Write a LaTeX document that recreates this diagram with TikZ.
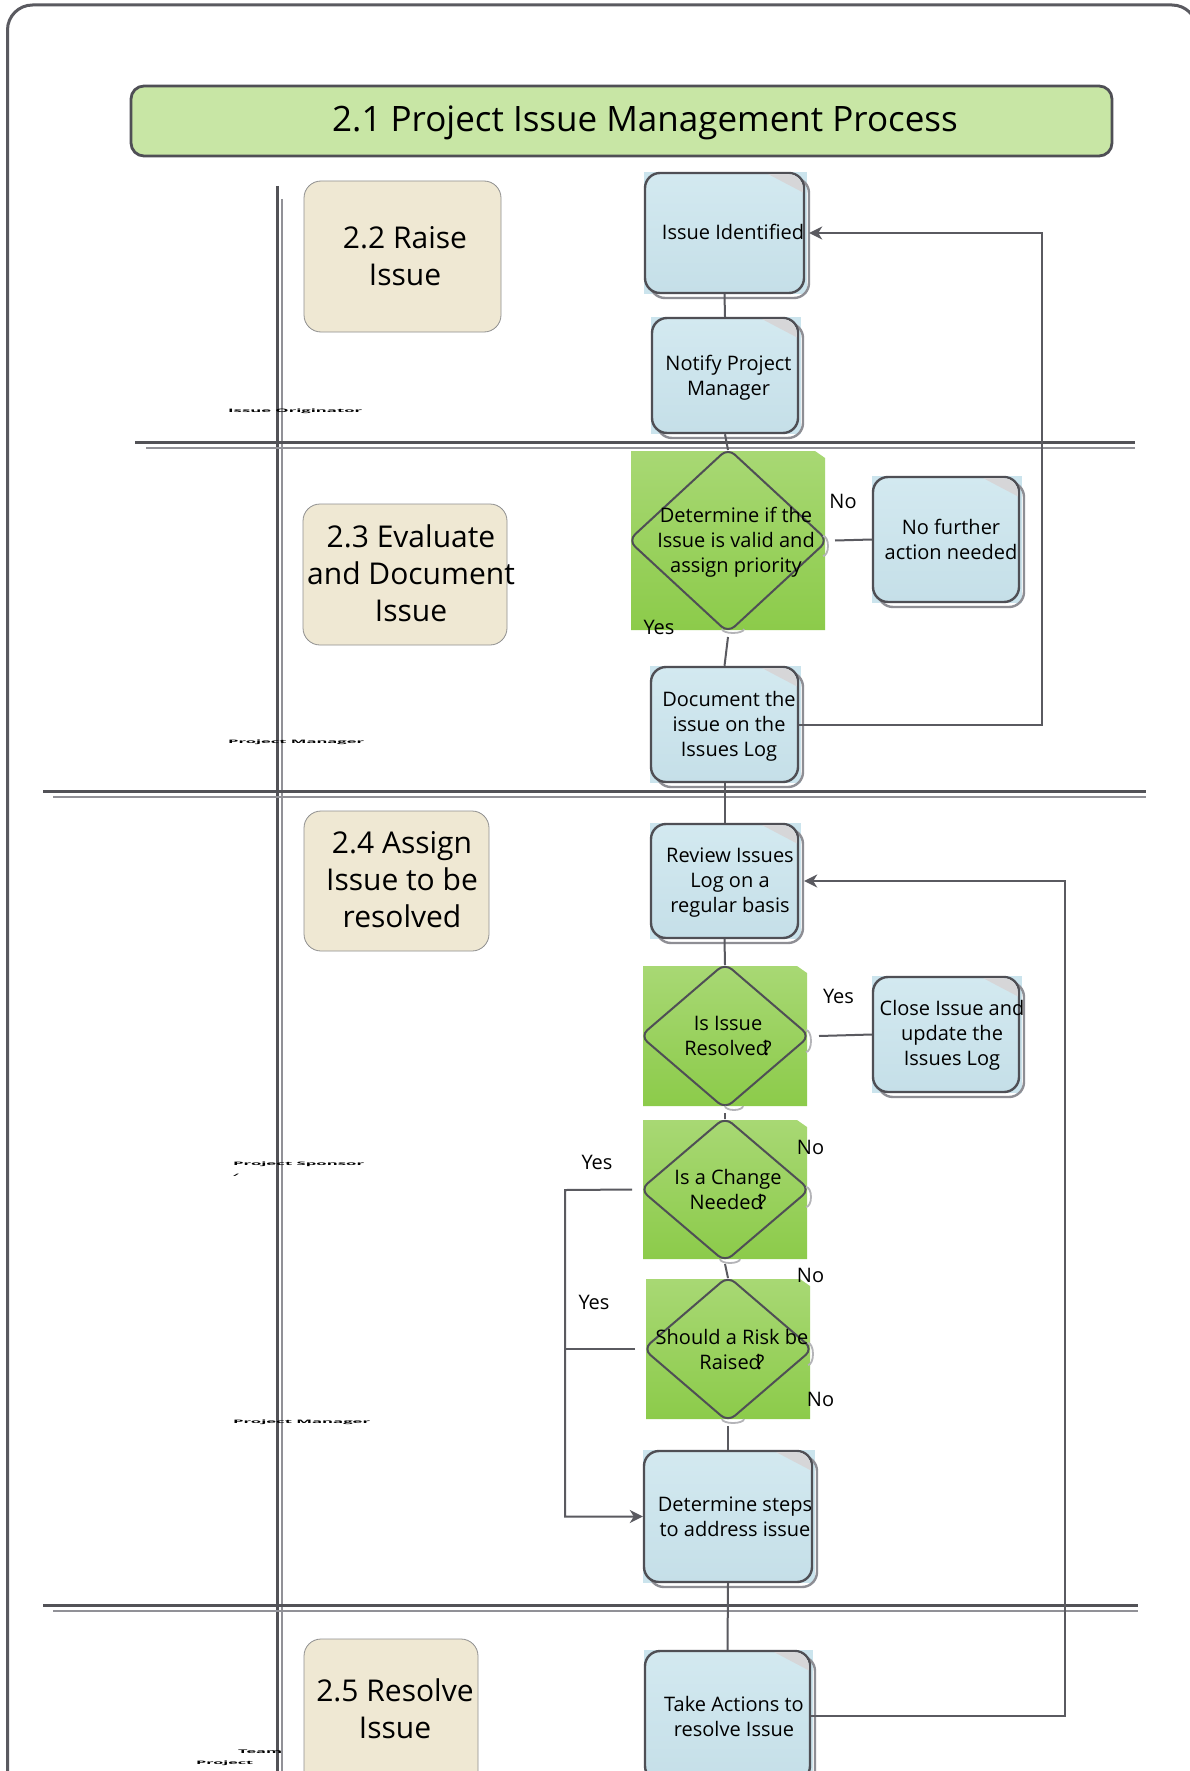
\documentclass[tikz,border=0pt]{standalone}
\usepackage{fontspec}
\setmainfont{Open Sans}
\usetikzlibrary{shapes.geometric,arrows.meta,calc}

\definecolor{framegray}{HTML}{5A5A60}
\definecolor{boxline}{HTML}{4F4F55}
\definecolor{shadowgray}{HTML}{8E8E94}
\definecolor{conncol}{HTML}{5A5A60}
\definecolor{laneA}{HTML}{525257}
\definecolor{laneB}{HTML}{919197}
\definecolor{titlefill}{HTML}{C8E6A5}
\definecolor{beige}{HTML}{EFE8D3}
\definecolor{beigeline}{HTML}{8F8F8F}
\definecolor{blueT}{HTML}{D3E9F0}
\definecolor{blueB}{HTML}{C5DFE8}
\definecolor{bgblue}{HTML}{CBE4ED}
\definecolor{foldgray}{HTML}{D6D6D8}
\definecolor{greenT}{HTML}{A8D874}
\definecolor{greenB}{HTML}{8CCB4A}
\definecolor{arcgray}{HTML}{B4B4B8}

\tikzset{
  pbox/.style={rectangle, draw=boxline, line width=2.4pt, rounded corners=15pt,
    top color=blueT, bottom color=blueB, inner sep=0pt},
  shadowline/.style={draw=shadowgray, line width=2.4pt, rounded corners=15pt},
  dnode/.style={diamond, draw=boxline, line width=2pt, rounded corners=9pt, inner sep=0pt},
  phasebox/.style={rectangle, draw=beigeline, line width=0.8pt, fill=beige, rounded corners=17pt, inner sep=0pt},
  txt/.style={font=\fontsize{20}{25}\selectfont, align=center, inner sep=0pt},
  phasetxt/.style={font=\fontsize{30}{37}\selectfont, align=center, inner sep=0pt},
  lbl/.style={font=\fontsize{20}{25}\selectfont, inner sep=0pt},
  lanetxt/.style={font=\bfseries, inner sep=0pt, anchor=west},
  conn/.style={draw=conncol, line width=2pt},
  arr/.style={-{Stealth[length=13pt,width=13pt,inset=4pt]}},
  laneone/.style={draw=laneA, line width=3pt},
  lanetwo/.style={draw=laneB, line width=2.5pt},
  arcline/.style={draw=arcgray, line width=1.8pt},
}

\newcommand\procbox[5]{%
  \fill[bgblue] ({#2-1},{#3-1}) rectangle ({#4+3},{#5+1});
  \draw[shadowline] ({#2+5},{#3+5}) rectangle ({#4+5},{#5+5});
  \node[pbox, minimum width={(#4-#2)*1pt}, minimum height={(#5-#3)*1pt}] (#1) at ({(#2+#4)/2},{(#3+#5)/2}) {};
  \begin{scope}
    \clip[rounded corners=14pt] ({#2+1.2},{#3+1.2}) rectangle ({#4-1.2},{#5-1.2});
    \fill[foldgray] ({#4-38},{#3}) -- ({#4},{#3}) -- ({#4},{#3+20}) -- cycle;
  \end{scope}
}
\newcommand\decision[5]{%
  \shade[top color=greenT, bottom color=greenB] (#2,#3) -- ({#4-10},#3) -- (#4,{#3+7}) -- (#4,#5) -- (#2,#5) -- cycle;
  \node[dnode, minimum width={(#4-#2+6)*1pt}, minimum height={(#5-#3+6)*1pt}] (#1) at ({(#2+#4)/2},{(#3+#5)/2}) {};
}
\newcommand\rarc[3]{\draw[arcline] (#1,{#2+#3}) arc[start angle=90,end angle=-90,x radius=5,y radius=#3];}
\newcommand\barc[3]{\draw[arcline] ({#1-#3},#2) arc[start angle=180,end angle=0,x radius=#3,y radius=4];}

\begin{document}
\begin{tikzpicture}[x=1pt,y=-1pt]
\useasboundingbox (0,0) rectangle (1190,1771);
\fill[white] (0,0) rectangle (1190,1771);

% outer frame
\draw[draw=framegray, line width=3pt, rounded corners=25pt] (7.5,1830) -- (7.5,5) -- (1197,5) -- (1197,1830);

% title
\node[rectangle, draw=boxline, line width=2.8pt, fill=titlefill, rounded corners=13pt,
  minimum width=981pt, minimum height=70pt, inner sep=0pt] (title) at (621.5,121) {};
\node[font=\fontsize{35}{40}\selectfont, inner sep=0pt] (titletxt) at (645,123) {2.1 Project Issue Management Process};

% lane lines
\draw[laneone] (277,186) -- (277,1800);
\draw[lanetwo] (282,199) -- (282,1800);
\draw[laneone] (135,442) -- (1135,442);
\draw[lanetwo] (146,448) -- (1135,448);
\draw[laneone] (43,791) -- (1146,791);
\draw[lanetwo] (53,797) -- (1146,797);
\draw[laneone] (43,1605) -- (1138,1605);
\draw[lanetwo] (53,1611) -- (1138,1611);

% lane labels
\node[lanetxt] (lo) at (228,411) {\resizebox{134pt}{3.6pt}{Issue Originator}};
\node[lanetxt] (lpm1) at (228,742) {\resizebox{136pt}{3.6pt}{Project Manager}};
\node[lanetxt] (lps) at (233,1164) {\resizebox{131pt}{3.6pt}{Project Sponsor}};
\node[lanetxt] (lslash) at (233,1175) {\resizebox{6pt}{2.4pt}{/}};
\node[lanetxt] (lpm2) at (233,1422) {\resizebox{137pt}{3.6pt}{Project Manager}};
\node[lanetxt] (lteam) at (238,1752) {\resizebox{44pt}{3.6pt}{Team}};
\node[lanetxt] (lproj) at (196,1763) {\resizebox{57pt}{3.6pt}{Project}};

% phase boxes
\node[phasebox, minimum width=197pt, minimum height=151pt] (p22) at (402.5,256.5) {};
\node[phasetxt] (p22t) at (405,256.5) {2.2 Raise\\Issue};
\node[phasebox, minimum width=204pt, minimum height=141pt] (p23) at (405,574.5) {};
\node[phasetxt] (p23t) at (411,573) {2.3 Evaluate\\and Document\\Issue};
\node[phasebox, minimum width=185pt, minimum height=140pt] (p24) at (396.5,881) {};
\node[phasetxt] (p24t) at (402,880) {2.4 Assign\\Issue to be\\resolved};
\node[phasebox, minimum width=174pt, minimum height=150pt] (p25) at (391,1714) {};
\node[phasetxt] (p25t) at (395,1709) {2.5 Resolve\\Issue};

% process boxes
\procbox{iid}{645}{173}{804}{293}
\node[txt] (iidt) at (733,232) {Issue Identified};
\procbox{notify}{652}{318}{798}{433}
\node[txt] (notifyt) at (728.5,377.5) {Notify Project\\Manager};
\procbox{nofurther}{873}{477}{1019}{602}
\node[txt] (nofurthert) at (951,539) {No further\\action needed};
\procbox{document}{651}{667}{798}{782}
\node[txt] (documentt) at (729,726) {Document the\\issue on the\\Issues Log};
\procbox{review}{651}{824}{798}{938}
\node[txt] (reviewt) at (730,883) {Review Issues\\Log on a\\regular basis};
\procbox{close}{873}{977}{1019}{1092}
\node[txt] (closet) at (952,1035.5) {Close Issue and\\update the\\Issues Log};
\procbox{steps}{644}{1451}{812}{1582}
\node[txt] (stepst) at (735,1517) {Determine steps\\to address issue};
\procbox{actions}{645}{1651}{810}{1781}
\node[txt] (actionst) at (734,1716.5) {Take Actions to\\resolve Issue};

% decisions
\decision{d1}{631}{451}{825}{630}
\node[txt] (d1t) at (736,542.5) {Determine if the\\Issue is valid and\\assign priority};
\decision{d2}{643}{966}{807}{1106}
\node[txt] (d2t) at (728,1036) {Is Issue\\Resolved\kern-5pt?};
\decision{d3}{643}{1120}{807}{1259}
\node[txt] (d3t) at (728,1190) {Is a Change\\Needed\kern-5pt?};
\decision{d4}{646}{1279}{810}{1419}
\node[txt] (d4t) at (732,1349.5) {Should a Risk be\\Raised\kern-5pt?};

% small connection arcs
\rarc{823}{546}{10}
\barc{733}{629}{11}
\rarc{806}{1041}{11}
\barc{734}{1106}{9}
\rarc{806}{1197}{10}
\barc{730}{1259}{10}
\rarc{808}{1354}{11}
\barc{733}{1419}{11}

% connectors
\coordinate (r1) at (1042,233);
\coordinate (r2) at (1065,881);
\coordinate (lc) at (565,1190);
\draw[conn] (iid.south) -- (notify.north);
\draw[conn] (notify.south) -- ([yshift=-3pt]d1.north);
\draw[conn] ([xshift=6pt]d1.east) -- (nofurther.west);
\draw[conn] ([yshift=-3pt]d1.south) -- (document.north);
\draw[conn, arr] (document.east) -| (r1) -- ([xshift=4pt]iid.east);
\draw[conn] (document.south) -- (review.north);
\draw[conn] (review.south) -- ([yshift=-3pt]d2.north);
\draw[conn] ([xshift=8pt]d2.east) -- (close.west);
\draw[conn] ([yshift=-3pt]d2.south) -- ([yshift=-3pt]d3.north);
\draw[conn] ([yshift=-1pt]d3.south) -- ([yshift=-3pt]d4.north);
\draw[conn, arr] ([xshift=-7pt]d3.west) -- (lc) |- (steps.west);
\draw[conn] ([xshift=-7pt]d4.west) -- (d4.west -| lc);
\draw[conn] ([yshift=-3pt]d4.south) -- (steps.north);
\draw[conn] (steps.south) -- (actions.north);
\draw[conn, arr] (actions.east) -| (r2) -- ([xshift=5pt]review.east);

% branch labels
\node[lbl] (no1) at (843,501) {No};
\node[lbl] (yes1) at (659,627) {Yes};
\node[lbl] (yes2) at (838.5,996) {Yes};
\node[lbl] (no3a) at (810.5,1147) {No};
\node[lbl] (yes3) at (597,1162) {Yes};
\node[lbl] (no3b) at (810.5,1275) {No};
\node[lbl] (yes4) at (594,1302) {Yes};
\node[lbl] (no4) at (820.5,1399) {No};
\end{tikzpicture}
\end{document}
